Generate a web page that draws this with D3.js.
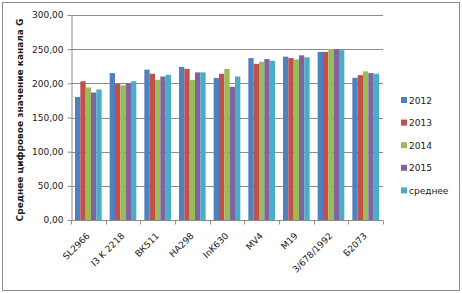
<!DOCTYPE html>
<html>
<head>
<meta charset="utf-8">
<script src="https://cdn.jsdelivr.net/npm/d3@7"></script>
<style>
  body { margin: 0; background: #fff; }
  text { font-family: "DejaVu Sans", Verdana, sans-serif; fill: #1a1a1a; }
</style>
</head>
<body>
<svg class="chart"></svg>
<script>
let width = 462, height = 293;
let margin = { top: 15, right: 79, bottom: 73, left: 71 };
let w = width - margin.left - margin.right;
let h = height - margin.top - margin.bottom;

// data
let categories = ["SL2966", "I3 K 2218", "ВК511", "НА298", "InK630", "MV4", "M19", "3/678/1992", "Б2073"];
let seriesNames = ["2012", "2013", "2014", "2015", "среднее"];
let v2012 = [180, 215, 220, 224, 208, 237, 239, 246, 208];
let v2013 = [203, 199.5, 214, 221, 214, 228.5, 237, 246, 212];
let v2014 = [194, 197, 205, 205, 221, 231.5, 235, 250, 217.5];
let v2015 = [186.5, 200, 210, 216, 195, 235.5, 241, 250, 215];
let vAvg = [191, 203, 212.5, 216, 210, 233, 238, 248.5, 214];
let yTicks = [0, 50, 100, 150, 200, 250, 300];
let colors = ["#4F81BD", "#C0504D", "#9BBB59", "#8064A2", "#4BACC6"];

let allSeries = [v2012, v2013, v2014, v2015, vAvg];

let svg = d3.select(".chart").attr("width", width).attr("height", height);

// outer frame
svg.append("rect")
  .attr("x", 2.5).attr("y", 2.5)
  .attr("width", width - 5).attr("height", height - 5)
  .attr("fill", "none").attr("stroke", "#8c8c8c");

let chart = svg.append("g")
  .attr("transform", "translate(" + margin.left + "," + margin.top + ")");

let x = d3.scaleBand().domain(categories).range([0, w]).paddingInner(0).paddingOuter(0);
let y = d3.scaleLinear().domain([0, 300]).range([h, 0]);

let bw = x.bandwidth() / 6.5; // excel gap width 150%
let xs = d3.scaleBand().domain(seriesNames).range([bw * 0.75, x.bandwidth() - bw * 0.75]);

let fmt = v => d3.format(".2f")(v).replace(".", ",");

// gridlines
chart.append("g")
  .selectAll("line")
  .data(yTicks.filter(t => t > 0))
  .enter().append("line")
  .attr("x1", 0).attr("x2", w)
  .attr("y1", d => Math.round(y(d)) + 0.5).attr("y2", d => Math.round(y(d)) + 0.5)
  .attr("stroke", "#8c8c8c");

// bars
let groups = chart.selectAll(".grp")
  .data(categories)
  .enter().append("g")
  .attr("class", "grp")
  .attr("transform", d => "translate(" + x(d) + ",0)");

groups.selectAll("rect")
  .data((c, i) => seriesNames.map((s, j) => ({ s: s, v: allSeries[j][i], j: j })))
  .enter().append("rect")
  .attr("x", d => xs(d.s))
  .attr("width", xs.bandwidth())
  .attr("y", d => y(d.v))
  .attr("height", d => h - y(d.v))
  .attr("fill", d => colors[d.j]);

// y axis
let yAxis = chart.append("g")
  .attr("transform", "translate(0.5,0)")
  .call(d3.axisLeft(y).tickValues(yTicks).tickFormat(fmt).tickSize(4).tickSizeOuter(0));
yAxis.select(".domain").attr("stroke", "#8c8c8c");
yAxis.selectAll(".tick line").attr("stroke", "#8c8c8c");
yAxis.selectAll("text").style("font-size", "9px").attr("x", -8).attr("fill", "#1a1a1a");

// x axis, ticks between categories
let xAxis = chart.append("g").attr("transform", "translate(0," + (h + 0.5) + ")");
xAxis.append("line").attr("x1", 0).attr("x2", w).attr("stroke", "#8c8c8c");
xAxis.selectAll(".tk")
  .data(d3.range(categories.length + 1))
  .enter().append("line")
  .attr("x1", i => Math.round(i * x.bandwidth()) + 0.5)
  .attr("x2", i => Math.round(i * x.bandwidth()) + 0.5)
  .attr("y1", 0).attr("y2", 4)
  .attr("stroke", "#8c8c8c");
xAxis.selectAll(".lbl")
  .data(categories)
  .enter().append("text")
  .attr("transform", d => "translate(" + (x(d) + x.bandwidth() / 2 + 2) + ",16) rotate(-45)")
  .attr("text-anchor", "end")
  .style("font-size", "9px")
  .text(d => d);

// y title
svg.append("text")
  .attr("transform", "translate(23,120) rotate(-90)")
  .attr("text-anchor", "middle")
  .style("font-size", "9px")
  .style("font-weight", "bold")
  .text("Среднее цифровое значение канала G");

// legend
let legend = svg.append("g").attr("transform", "translate(401,97)");
let li = legend.selectAll("g")
  .data(seriesNames)
  .enter().append("g")
  .attr("transform", (d, i) => "translate(0," + (i * 22.6) + ")");
li.append("rect").attr("width", 6).attr("height", 6).attr("fill", (d, i) => colors[i]);
li.append("text").attr("x", 8).attr("y", 6.5).style("font-size", "9px").text(d => d);
</script>
</body>
</html>
